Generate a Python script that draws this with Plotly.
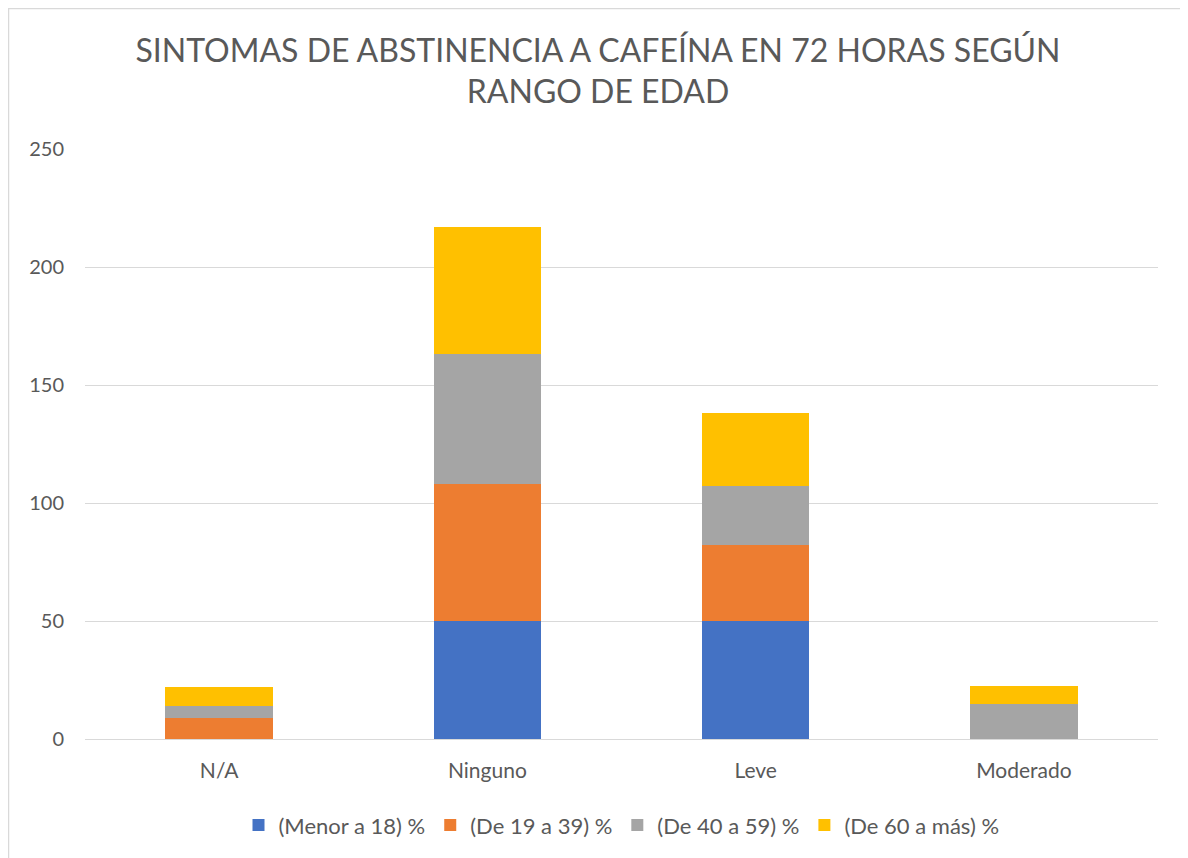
import plotly.graph_objects as go

categories = ["N/A", "Ninguno", "Leve", "Moderado"]
series_names = ["(Menor a 18) %", "(De 19 a 39) %", "(De 40 a 59) %", "(De 60 a más) %"]
menor_18 = [0, 50, 50, 0]
de_19_39 = [9, 58, 32, 0]
de_40_59 = [5, 55, 25, 15]
de_60_mas = [8, 54, 31, 7.5]
colors = ["#4472C4", "#ED7D31", "#A5A5A5", "#FFC000"]

series_values = [menor_18, de_19_39, de_40_59, de_60_mas]

fig = go.Figure()
for name, vals, col in zip(series_names, series_values, colors):
    fig.add_trace(go.Bar(x=categories, y=vals, name=name, marker=dict(color=col, line=dict(width=0))))

W, H = 1180, 850
L, T, PW, PH = 77, 141, 1073, 590
font_family = "Lato, 'Open Sans', sans-serif"
fig.update_layout(
    barmode="stack",
    bargap=0.6,
    width=W, height=H,
    margin=dict(l=L, r=W - L - PW, t=T, b=H - T - PH),
    paper_bgcolor="white", plot_bgcolor="white",
    font=dict(family=font_family, color="#595959", size=20),
    title=dict(text="SINTOMAS DE ABSTINENCIA A CAFEÍNA EN 72 HORAS SEGÚN<br>RANGO DE EDAD",
               x=0.5, xanchor="center", y=0.937, yanchor="top",
               font=dict(size=32, color="#595959", family=font_family)),
    xaxis=dict(showline=True, linecolor="#D9D9D9", linewidth=1, ticks="", showgrid=False,
               tickfont=dict(size=21, color="#595959"), ticklabelstandoff=13),
    yaxis=dict(range=[0, 250], dtick=50, showgrid=True, gridcolor="#D9D9D9", gridwidth=1,
               zeroline=False, showline=False, ticks="", ticklabelstandoff=20,
               tickfont=dict(size=20, color="#595959")),
    legend=dict(orientation="h", x=0.5, xanchor="center", y=-0.146, yanchor="middle",
                font=dict(size=22, color="#595959"), traceorder="normal", itemwidth=30),
    shapes=[dict(type="rect", xref="paper", yref="paper",
                 x0=(0.5 - L) / PW, x1=(W - 3 - L) / PW,
                 y0=(T + PH - H - 20) / PH, y1=(T + PH - 0.5) / PH,
                 line=dict(color="#D9D9D9", width=1.5), fillcolor="rgba(0,0,0,0)", layer="below")],
)
fig.write_html("out.html")
